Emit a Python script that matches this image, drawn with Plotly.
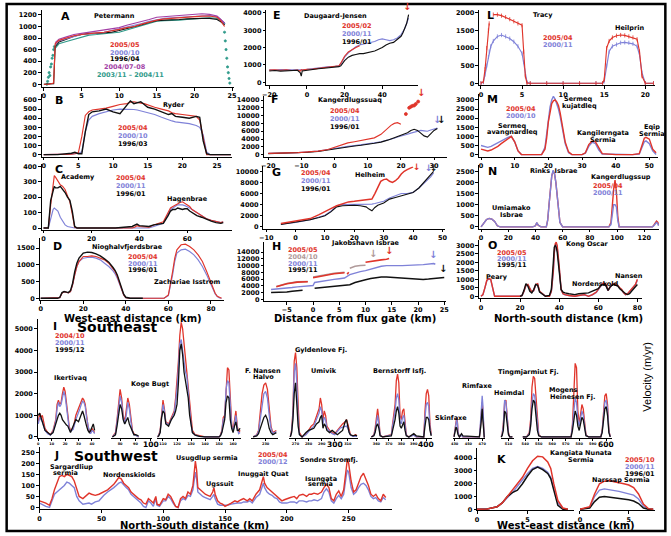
import plotly.graph_objects as go

W, H = 671, 536
FONT = "DejaVu Sans"
RED = "#e0352b"; BLUE = "#7f82d8"; BLACK = "#111111"; PURPLE = "#a23fa6"; TEAL = "#2f9a8a"; GREY = "#b09a9a"

# ---------------- DATA ----------------
A_x = [0, 0.7, 1.3, 1.5, 2, 3, 4, 5, 6, 7, 8, 9, 10, 11, 12, 13, 14, 15, 16, 17, 18, 19, 20, 21, 22, 23, 23.5, 24]
A_red = [0, 0, 20, 700, 760, 800, 840, 860, 880, 890, 900, 920, 950, 980, 1000, 1040, 1080, 1110, 1130, 1140, 1150, 1160, 1175, 1180, 1180, 1160, 1100, 1000]
A_blue = [None, None, None, 680, 750, 790, 830, 860, 870, 880, 900, 930, 960, 990, 1010, 1050, 1090, 1120, 1140, 1150, 1160, 1170, 1180, 1185, 1190, 1170, 1120, 1050]
A_black = [0, 0, 10, 650, 730, 780, 830, 860, 880, 880, 890, 900, 930, 960, 990, 1030, 1070, 1100, 1110, 1110, 1120, 1130, 1140, 1140, 1140, 1120, 1080, 1030]
A_purple = [None, None, None, 720, 780, 820, 860, 880, 900, 920, 930, 950, 980, 1020, 1050, 1080, 1120, 1160, 1170, 1180, 1190, 1200, 1210, 1220, 1210, 1180, 1120, 1060]
A_teal = [None, None, None, 620, 700, 740, 780, 820, 850, 860, 870, 880, 900, 940, 980, 1020, 1060, 1090, 1100, 1100, 1110, 1120, 1130, 1140, 1150, 1140, 1100, 1060]
A_teal_dot_x = [0.4, 0.5, 0.6, 0.7, 0.8, 0.9, 1.0, 1.1, 1.2, 1.3, 1.4, 23.9, 24.0, 24.1, 24.2, 24.3, 24.4, 24.5, 24.6, 24.7]
A_teal_dot_y = [0, 50, 120, 200, 150, 300, 350, 450, 500, 600, 650, 1050, 900, 750, 600, 450, 300, 200, 100, 20]

B_x = [0, 2, 4, 4.5, 5, 5.5, 6, 6.5, 7, 8, 9, 10, 11, 12, 12.5, 13, 13.5, 14, 14.5, 15, 16, 17, 18, 18.5, 19, 20, 21, 22, 22.5, 23, 23.5, 24, 26, 27]
B_red = [0, 0, 5, 10, 20, 200, 430, 470, 490, 500, 510, 530, 550, 560, 575, 580, 570, 565, 560, 545, 520, 500, 480, 460, 450, 440, 430, 420, 380, 200, 0, 0, 0, 0]
B_blue = [0, 0, 5, 10, 15, 30, 250, 380, 420, 450, 470, 490, 500, 500, 500, 495, 490, 480, 470, 460, 440, 410, 380, 370, 360, 350, 340, 320, 300, 220, 30, 0, 0, 0]
B_black = [0, 0, 15, 25, 10, 10, 250, 440, 470, 480, 500, 470, 450, 540, 590, 560, 570, 580, 550, 520, 500, 470, 440, 450, 420, 410, 400, 420, 410, 150, 10, 0, 0, 0]

C_x = [0, 2, 3, 4, 4.5, 5, 6, 7, 8, 9, 10, 11, 12, 12.5, 13, 14, 20, 30, 37, 38, 39, 40, 44, 46, 48, 50, 52, 53, 54, 55, 56, 57, 58, 59, 60, 61, 62, 63, 64, 66, 68, 70, 72, 74, 75]
C_red = [0, 0, 150, 300, 340, 330, 300, 280, 270, 250, 210, 170, 90, 40, 5, 0, 0, 0, 0, 5, 15, 10, 5, 20, 30, 40, 100, 130, 140, 150, 160, 165, 170, 160, 150, 140, 120, 110, 100, 80, 60, 50, 40, 35, 40]
C_blue = [0, 0, 60, 120, 130, 125, 110, 70, 40, 20, 10, 5, 0, 0, 0, 0, 0, 0, 0, 0, 0, 0, 0, 10, 20, 30, 90, 120, 130, 140, 150, 150, 150, 145, 140, 130, 120, 110, 100, 80, 60, 50, 40, 35, 40]
C_black = [0, 0, 180, 250, 270, 260, 260, 270, 250, 230, 200, 180, 110, 60, 10, 0, 0, 0, 10, 20, 25, 15, 10, 20, 25, 30, 80, 110, 120, 120, 130, 125, 120, 125, 125, 110, 100, 90, 80, 70, 55, 45, 35, 30, 35]

D_x = [0, 8, 9, 10, 11, 12, 13, 14, 15, 16, 17, 18, 20, 22, 24, 26, 28, 30, 32, 34, 35, 36, 37, 38, 39, 40, 42, 45, 48, 55, 58, 60, 61, 62, 63, 64, 66, 68, 70, 72, 74, 76, 78, 80, 82, 83, 84, 85]
D_red = [0, 0, 20, 150, 200, 180, 160, 200, 400, 700, 950, 1100, 1250, 1250, 1270, 1250, 1200, 1150, 1050, 900, 800, 650, 450, 250, 100, 20, 0, 0, 0, 0, 0, 100, 400, 800, 1200, 1450, 1600, 1620, 1550, 1450, 1300, 1100, 800, 450, 150, 60, 20, 0]
D_blue = [0, 0, 20, 150, 200, 180, 160, 200, 400, 700, 950, 1100, 1200, 1220, 1230, 1200, 1150, 1050, 950, 820, 730, 600, 420, 230, 100, 20, 0, 0, 0, 0, 0, 80, 350, 700, 1100, 1350, 1450, 1470, 1400, 1300, 1150, 950, 700, 400, 130, 50, 10, 0]
D_black = [0, 0, 30, 170, 200, 190, 170, 230, 450, 800, 1050, 1200, 1350, 1380, 1370, 1330, 1270, 1180, 1080, 920, 830, 700, 520, 300, 120, 30, 0, 0, 0] + [None] * 19

E_x = [-20, -17, -14, -11, -8, -5, -3.5, -3, -2.5, 0, 3, 6, 9, 12, 15, 17, 18, 19, 20, 22, 24, 26, 28, 30, 32, 34, 36, 38, 40, 42, 44, 46, 48, 50, 51, 52, 53, 54]
E_red = [700, 720, 690, 720, 680, 700, 650, 720, 700, 750, 760, 800, 830, 850, 900, 950, 1100, 1300, 1500, 1750, 1900, 2000, 2100] + [None] * 15
E_blue = [720, 700, 730, 700, 710, 720, 700, 710, 720, 740, 780, 850, 880, 900, 920, 950, 1050, 1250, 1450, 1700, 1900, 2050, 2150, 2200, 2250, 2300, 2350, 2450, 2500, 2450, 2400, 2450, 2550, 2750, 2900, 3100, 3400, 3700]
E_black = [650, 680, 640, 660, 670, 690, 550, 350, 650, 700, 730, 780, 810, 840, 870, 900, 950, 1100, 1250, 1450, 1550, 1600, 1650, 1650, 1700, 1750, 1800, 1900, 2000, 2150, 2250, 2300, 2450, 2650, 2850, 3100, 3400, 3900]
E_arrow_x = [53]
E_arrow_y = [3950]

F_x = [-20, -17, -14, -11, -8, -5, -2, 0, 2, 4, 6, 8, 10, 12, 14, 15, 16, 17, 18, 19, 20, 21, 22, 23, 24, 25, 26, 27, 28, 29, 30, 31]
F_red = [300, 350, 400, 500, 700, 900, 1300, 1800, 2500, 3000, 3300, 3600, 3900, 4300, 5200, 6000, 6800, 7500, 8000, 8200, 7800] + [None] * 11
F_blue = [300, 320, 400, 500, 700, 900, 1300, 1600, 1900, 2100, 2300, 2500, 2700, 3000, 3300, 3500, 3800, 4000, 4200, 4500, 4700, 4900, 5200, 5500, 5800, 6000, 6200, 6100, 6000, 6300, 6600, 6800]
F_black = [250, 300, 350, 450, 600, 800, 1200, 1500, 1800, 2000, 2200, 2400, 2600, 2900, 3200, 3400, 3700, 4000, 4300, 4600, 4800, 5200, 5600, 6200, 6500, 6200, 5600, 4800, 4500, 5300, 6200, 6700]
F_red_dot_x = [21.5, 22.5, 23, 23.5, 24, 24.5, 25.2]
F_red_dot_y = [10400, 12000, 12300, 12500, 12600, 13000, 13600]
F_arrow_x = [26, 31, 32.2]
F_arrow_y = [14000, 7000, 7000]

G_x = [-5, 0, 5, 8, 10, 12, 13, 14, 16, 18, 20, 22, 24, 25, 26, 27, 28, 30, 32, 34, 36, 38, 40, 42, 44, 46, 47]
G_blue = [500, 800, 1300, 1800, 2100, 2800, 3400, 3800, 4000, 4000, 4100, 4050, 4000, 4000, 4100, 4200, 4300, 4600, 5200, 5600, 6000, 6000, 6200, 7000, 8000, 9000, 9700]
G_black = [450, 850, 1300, 1700, 2000, 2700, 3200, 3600, 3800, 3900, 3900, 3800, 3600, 3200, 2900, 3500, 3900, 4300, 5000, 5300, 5600, 5800, 6200, 7000, 8200, 9200, 10000]
G_red_x = [-5, 0, 5, 8, 10, 12, 14, 16, 18, 20, 22, 24, 26, 27, 28, 29, 30, 31, 32, 33, 34, 35, 36, 37, 38, 39, 40]
G_red = [600, 1000, 1500, 2200, 2800, 3300, 3800, 4200, 4500, 4600, 4700, 4800, 5000, 6000, 7000, 8200, 8500, 8600, 8200, 8000, 8300, 8800, 9500, 10000, 10300, 10600, 10800]
G_arrow_x = [41.5, 45.3, 47.3]
G_arrow_y = [9600, 9300, 9300]

H_grey_x = [-7, -5, -3, -1, -0.5, 0, 2, 4, 6, 6.5, 7, 8, 9, 10]
H_grey = [3800, 4700, 5200, 5300, None, 6600, 7200, 7700, 8000, None, 9200, 9800, 10000, 10100]
H_red_x = [-7, -5, -3, -1, -0.5, 0, 2, 4, 6, 6.2, 6.5, 6.8, 8, 10, 11, 12, 13, 14, 14.5]
H_red = [3700, 4600, 5100, 5200, None, 6400, 7100, 7600, 7900, None, 7400, 8000, None, 11000, 11300, 11600, 11700, 11900, 12100]
H_blue_x = [-8, -7, -6, -5, -4, -3, -2, -1, 0, 0.3, 1, 2, 3, 4, 5, 6, 7, 8, 9, 10, 11, 12, 13, 14, 15, 16, 17, 18, 19, 20, 21, 22, 22.5, 23, 23.3]
H_blue = [2900, 3000, 3100, 3300, 3500, 3700, 3900, 4000, 4100, 5000, 5200, 5500, 5700, 5900, 6100, 6300, 7300, 7800, 8200, 8500, 9000, 9500, 9800, 10000, 10100, 10000, 10000, 10000, 10100, 10200, 10300, 10500, 10700, 10600, 10400]
H_black_x = [-8, -7, -6, -5, -4, -3, -2, -1, 0, 0.3, 1, 2, 3, 4, 5, 6, 7, 8, 9, 10, 11, 12, 13, 14, 15, 16, 17, 18, 19, 20, 21, 22, 23, 24, 25]
H_black = [2000, 2000, 2100, 2200, 2400, 2600, 2700, None, None, 3300, 3400, 3500, 3700, 3800, 3900, 4000, 4300, 5000, 5300, 5800, 6200, 6500, 6600, 6600, 6500, 6300, 6200, 6000, 5900, 5800, 5900, 6000, 6100, 6300, 6500]
H_arrow_x = [11.5, 14.5, 22.8, 24.8]
H_arrow_y = [11300, 12400, 11000, 6800]

L_x = [0, 0.3, 0.5, 0.7, 0.9, 1.0, 1.2, 1.5, 2, 2.5, 3, 3.5, 4, 4.5, 5, 5.2, 5.4, 5.6, 6, 8, 10, 12, 14, 14.8, 15, 15.3, 15.6, 16, 16.5, 17, 17.5, 18, 18.5, 19, 19.3, 19.6, 20, 21]
L_red = [0, 50, 400, 1000, 1500, 1700, None, 1950, 1950, 1920, 1880, 1820, 1760, 1700, 1650, 900, 200, 0, 0, 0, 0, 0, 0, 0, 100, 1000, 1200, 1300, 1350, 1370, 1360, 1330, 1300, 1250, 900, 200, 0, 0]
L_blue = [0, 30, 250, 500, 750, 900, 1050, 1200, 1330, 1370, 1330, 1270, 1180, 1050, 850, 600, 250, 30, 0, 0, 0, 0, 0, 0, 50, 500, 900, 1050, 1100, 1150, 1160, 1150, 1120, 1050, 800, 300, 0, 0]

M_x = [0, 1, 2, 3, 4, 5, 6, 7, 8, 9, 10, 11, 12, 15, 18, 19, 19.5, 20, 20.5, 21, 21.5, 22, 22.5, 23, 23.5, 24, 25, 26, 27, 30, 31, 32, 33, 34, 35, 36, 40, 45, 47, 48, 48.5, 49, 50, 51, 52]
M_red = [300, 250, 200, 250, 350, 450, 600, 750, 900, 1000, 700, 200, 0, 0, 0, 300, 900, 1800, 2400, 2800, 2950, 3000, 2900, 2700, 2300, 1800, 700, 150, 0, 0, 100, 550, 750, 700, 350, 50, 0, 0, 50, 700, 900, 950, 850, 300, 100]
M_blue = [500, 450, 400, 450, 550, 650, 750, 850, 950, 1000, 700, 200, 0, 0, 0, 400, 1100, 2000, 2600, 3000, 3200, 3050, 2800, 2500, 2100, 1600, 600, 100, 0, 0, 80, 450, 680, 600, 250, 30, 0, 0, 30, 500, 700, 750, 600, 200, 0]

N_x = [0, 2, 4, 6, 8, 10, 12, 14, 38, 40, 41, 42, 44, 48, 49, 50, 51, 52, 53, 54, 55, 56, 57, 58, 60, 94, 95.5, 96.5, 97.5, 98.5, 99.5, 100.5, 101.5, 110, 126, 127, 128, 129, 130, 130.5]
N_blue = [0, 150, 330, 380, 350, 250, 50, 0, 0, 50, 200, 80, 0, 0, 300, 1000, 1800, 2300, 2550, 2400, 2000, 1400, 700, 200, 0, 0, 100, 500, 1000, 1000, 900, 300, 0, 0, 0, 50, 150, 200, 150, 50]
N_red = [0, 150, 330, 380, 350, 250, 50, 0, 0, 50, 180, 80, 0, 0, 300, 1000, 1800, 2300, 2500, 2400, 2000, 1400, 700, 200, 0, 0, 200, 1000, 1700, 2100, 1600, 500, 0, 0, 0, 80, 200, 260, 200, 80]

O_x = [0, 1, 2, 3, 4, 5, 6, 7, 20, 21, 22, 23, 24, 25, 26, 27, 28, 29, 30, 33, 35, 36, 37, 37.5, 38, 38.5, 39, 40, 41, 42, 43, 45, 48, 50, 53, 55, 57, 59, 60, 61, 62, 63, 64, 65, 66, 67, 68, 69, 70, 71, 72, 73, 74, 75, 76, 77, 78, 79, 80]
O_red = [0, 100, 500, 950, 1050, 1000, 500, 0, 0, 50, 300, 650, 700, 450, 250, 350, 700, 750, 300, 0, 0, 300, 1500, 2600, 3100, 3200, 3000, 1800, 400, 150, 100, 50, 0, 50, 100, 0, 100, 250, 400, 600, 750, 780, 700, 350, 500, 700, 750, 700, 650, 500, 400, 200, 100, 150, 300, 450, 550, 700, 1000]
O_blue = [0, 90, 480, 920, 1020, 980, 480, 0, 0, 40, 280, 620, 680, 430, 240, 330, 680, 720, 280, 0, 0, 280, 1400, 2500, 3000, 3100, 2900, 1700, 380, 140, 90, 40, 0, 40, 90, 0, 90, 230, 380, 580, 720, 750, 680, 330, 480, 680, 720, 680, 620, 480, 380, 190, 90, 140, 280, 430, 530, 680, 950]
O_black = [None] * 8 + [0, 50, 350, 750, 600, 300, 200, 400, 700, 650, 250, 0, 50, 400, 2000, 2900, 3000, 2900, 2600, 1500, 400, 250, 200, 150, 100, 150, 200, 200, 300, 400, 450, 600, 680, 700, 600, 350, 550, 650, 700, 650, 600, 450, 350, 200, 150, 100, 150, 300, 450, 600, 700]

I1_x = [0, 1, 2, 3, 4, 5, 7, 9, 11, 13, 14, 15, 16, 17, 18, 19, 20, 21, 22, 23, 24, 26, 28, 30, 31, 32, 33, 34, 35, 36, 37, 38, 39, 40, 41, 42]
I1_red = [700, 1100, 900, 1000, 700, 400, 200, 100, 300, 800, 1500, 1700, 1500, 1600, 2000, 2300, 2100, 1500, 900, 500, 300, 400, 1000, 1300, 1500, 1600, 1800, 1700, 1500, 1000, 500, 300, 200, 400, 300, 200]
I1_blue = [600, 900, 800, 700, 500, 300, 150, 80, 250, 700, 1300, 1600, 1400, 1500, 1800, 2100, 1900, 1300, 700, 400, 250, 350, 800, 1100, 1300, 1500, 1650, 1600, 1400, 900, 450, 250, 150, 300, 250, 150]
I1_black = [1000, 1100, 900, 700, 500, 300, 200, 100, 200, 600, 900, 1000, 1100, 1000, 800, 700, 600, 550, 500, 300, 200, 500, 800, 700, 900, 1100, 1200, 1000, 700, 500, 300, 200, 300, 500, 600, 300]

I2_x = [75, 77, 78, 79, 80, 81, 82, 83, 84, 85, 86, 87, 88, 89, 90, 92]
I2_red = [0, 200, 800, 1500, 2200, 1800, 1000, 700, 1200, 1800, 1500, 800, 300, 150, 100, 0]
I2_blue = [0, 150, 700, 1400, 1900, 1600, 900, 600, 1000, 1600, 1300, 700, 250, 100, 80, 0]
I2_black = [0, 100, 500, 1100, 1500, 1300, 800, 600, 800, 900, 600, 400, 200, 100, 100, 50]

I3_x = [106, 107, 108, 109, 110, 111, 112, 114, 116, 118, 119, 120, 121, 122, 123, 124, 125, 126, 127, 128, 129, 130, 131, 133, 136, 140, 150, 151, 152, 153, 154, 155, 156, 157, 158, 159, 160, 161, 162, 163, 164, 165]
I3_red = [0, 100, 300, 1200, 1700, 1300, 700, 600, 900, 1200, 1800, 2500, 3500, 4700, 5300, 5000, 4200, 3500, 3000, 2300, 1500, 800, 300, 100, 50, 0, 0, 100, 300, 900, 1000, 2500, 3200, 3100, 2000, 600, 300, 800, 1200, 500, 200, 300]
I3_blue = [0, 80, 250, 1000, 1500, 1200, 650, 550, 800, 1100, 1600, 2200, 3200, 4300, 4500, 4000, 3500, 3000, 2800, 2000, 1300, 600, 200, 80, 30, 0, 0, 80, 250, 800, 900, 2200, 2600, 2500, 1500, 500, 250, 600, 1000, 400, 150, 200]
I3_black = [0, 50, 200, 900, 1200, 1100, 600, 500, 800, 1000, 1200, 1500, 2500, 4000, 4300, 3800, 3000, 2600, 2300, 1800, 1000, 500, 200, 80, 30, 0, 0, 50, 200, 500, 800, 1600, 1900, 1800, 800, 400, 200, 500, 700, 300, 300, 400]

I4_x = [223, 225, 226, 227, 228, 229, 230, 231, 232, 233, 234, 236]
I4_red = [0, 100, 300, 1200, 2000, 2400, 2500, 2200, 1300, 500, 200, 300]
I4_blue = [0, 80, 250, 900, 1600, 2000, 2100, 1800, 1000, 400, 150, 250]
I4_black = [0, 50, 150, 400, 600, 900, 1000, 800, 400, 200, 100, 200]

I5_x = [266, 267, 268, 269, 270, 271, 272, 273, 275, 278, 280, 282, 284, 286, 288, 289, 290, 291, 292, 293, 294, 296, 298, 300, 302, 304, 306, 308, 309, 310, 311, 312, 314, 316, 317]
I5_red = [0, 300, 1200, 3500, 3900, 3200, 1500, 200, 0, 150, 300, 500, 600, 1000, 1300, 1800, 1500, 800, 1200, 1000, 500, 300, 200, 150, 300, 500, 600, 700, 800, 600, 300, 100, 50, 100, 50]
I5_blue = [0, 250, 1000, 3000, 3400, 2500, 800, 100, 0, 100, 250, 400, 500, 800, 1100, 1400, 1200, 600, 900, 800, 400, 250, 150, 100, 250, 400, 450, 500, 500, 400, 200, 80, 30, 50, 30]
I5_black = [0, 200, 800, 2000, 2500, 1500, 500, 100, 0, 200, 300, 350, 400, 600, 700, 900, 1000, 400, 600, 500, 300, 200, 300, 200, 100, 200, 300, 700, 800, 500, 200, 100, 50, 80, 50]

I6_x = [356, 358, 359, 360, 361, 362, 363, 365, 372, 373, 374, 375, 376, 377, 378, 379, 380, 381, 382, 383, 384, 386, 390, 392, 398, 399, 400, 401, 402, 403, 404]
I6_red = [0, 100, 400, 1000, 1300, 800, 100, 0, 100, 600, 1000, 1500, 2600, 2900, 2500, 1000, 800, 1200, 1300, 700, 100, 0, 100, 0, 0, 1200, 2000, 2200, 1900, 600, 100]
I6_blue = [0, 80, 300, 800, 1000, 600, 80, 0, 80, 500, 800, 1200, 1800, 2000, 1700, 700, 600, 900, 1000, 500, 80, 0, 80, 0, 0, 900, 1500, 1600, 1400, 400, 80]
I6_black = [0, 50, 200, 500, 600, 400, 50, 0, 50, 300, 500, 800, 1200, 1400, 1100, 500, 400, 600, 700, 300, 50, 0, 150, 50, 0, 500, 900, 900, 800, 300, 50]

I7_x = [429, 431, 432, 433, 434, 435, 437, 440, 442, 466, 468, 469, 470, 471, 472, 473, 474]
I7_red = [0, 500, 800, 900, 700, 200, 0, 100, 0, 0, 700, 1400, 1600, 1200, 300, 0, 0]
I7_blue = [0, 450, 750, 800, 650, 200, 0, 80, 0, 0, 900, 1700, 1900, 1500, 300, 0, 0]
I7_black = [0, 300, 450, 400, 250, 100, 0, 150, 50, 0, 500, 1200, 1300, 800, 200, 0, 0]

I8_x = [504, 505, 506, 507, 508, 509, 510, 511, 513]
I8_red = [0, 100, 600, 1600, 1700, 1000, 200, 0, 0]
I8_blue = [0, 80, 500, 1700, 1600, 900, 150, 0, 0]
I8_black = [0, 50, 300, 1200, 1100, 600, 100, 0, 0]

I9_x = [538, 541, 543, 544, 545, 546, 547, 548, 549, 550, 552, 560, 570, 574, 575, 576, 577, 578, 579, 580, 581, 582, 583, 584, 585, 587, 590, 596, 597, 598, 599, 600, 601, 602, 603]
I9_red = [0, 0, 200, 800, 2300, 2800, 2700, 1800, 500, 100, 0, 0, 0, 0, 600, 2500, 3400, 3200, 1200, 600, 1200, 1500, 1300, 500, 100, 0, 0, 0, 300, 1200, 1900, 2000, 1500, 300, 0]
I9_blue = [0, 0, 150, 600, 1600, 2000, 1900, 1300, 400, 80, 0, 0, 0, 0, 500, 1400, 1800, 1600, 800, 500, 900, 1200, 1000, 400, 80, 0, 0, 0, 250, 1000, 1600, 1700, 1300, 250, 0]
I9_black = [0, 0, 100, 500, 1300, 1700, 1600, 1000, 300, 50, 0, 0, 0, 0, 300, 900, 1200, 1000, 500, 300, 700, 900, 800, 300, 50, 0, 0, 0, 200, 800, 1300, 1400, 1000, 200, 0]

J_x = [0, 3, 5, 8, 10, 12, 14, 16, 18, 20, 22, 24, 26, 28, 30, 32, 35, 38, 40, 42,
       45, 48, 50, 52, 55, 58, 60, 62, 64, 66, 68, 70, 72, 74, 76, 78, 80, 82, 84, 86,
       88, 90, 92, 94, 95, 97, 100, 102, 104, 106, 108, 110, 112, 114, 116, 118, 120, 122, 124, 125,
       126, 127, 128, 130, 132, 134, 136, 138, 140, 141, 142, 144, 146, 148, 150, 152, 155, 158, 160, 163,
       165, 168, 170, 172, 175, 178, 180, 181, 182, 184, 186, 188, 190, 192, 194, 196, 198, 200, 203, 206,
       208, 210, 213, 216, 218, 220, 222, 225, 228, 230, 232, 234, 236, 238, 240, 242, 244, 246, 248, 249,
       250, 251, 252, 254, 256, 258, 260, 262, 264, 266, 268, 270, 272, 274, 276, 278, 280]
J_red = [30, 25, 20, 10, 40, 80, 110, 140, 145, 140, 150, 145, 140, 120, 80, 50, 40, 55, 65, 60,
         55, 60, 65, 70, 80, 95, 105, 120, 135, 130, 110, 100, 90, 70, 60, 50, 40, 35, 20, 15,
         40, 30, 20, 50, 15, 10, 40, 35, 60, 50, 25, 5, 0, 40, 50, 40, 70, 60, 100, 170,
         210, 170, 90, 80, 70, 60, 55, 50, 70, 90, 60, 30, 20, 15, 5, 10, 20, 30, 25, 35,
         40, 30, 40, 30, 60, 80, 120, 140, 110, 90, 80, 70, 60, 50, 40, 30, 35, 40, 45, 50,
         40, 55, 60, 50, 60, 60, 65, 60, 70, 90, 105, 90, 40, 30, 60, 75, 50, 80, 170, 220,
         200, 160, 120, 70, 80, 110, 140, 155, 130, 100, 60, 50, 60, 40, 30, 60, 45]
J_blue = [20, 10, 5, 0, 30, 60, 70, 80, 90, 100, 115, 110, 100, 90, 50, 30, 15, 20, 20, 15,
          25, 30, 45, 55, 70, 80, 90, 100, 110, 115, 100, 90, 80, 60, 50, 40, 30, 20, 5, 0,
          30, 20, 5, 40, 10, 5, 30, 30, 50, 40, 20, 5, 0, 30, 40, 35, 55, 50, 80, 130,
          160, 130, 70, 60, 50, 45, 40, 35, 50, 60, 40, 15, 10, 10, 10, 10, 15, 20, 20, 20,
          25, 25, 30, 20, 45, 60, 90, 110, 90, 70, 60, 55, 45, 40, 25, 20, 20, 20, 25, 25,
          20, 30, 30, 25, 30, 30, 35, 30, 40, 70, 85, 70, 30, 20, 40, 55, 40, 60, 140, 170,
          160, 130, 90, 60, 70, 90, 105, 110, 100, 80, 50, 40, 45, 30, 25, 45, 35]

K1_x = [0, 1, 2, 2.5, 3, 3.5, 4, 4.5, 5, 5.5, 6, 6.5, 7, 7.3, 7.6, 8, 8.5, 9]
K1_red = [0, 20, 200, 500, 1000, 1500, 2000, 2500, 3200, 3800, 4150, 4100, 3700, 3200, 2000, 700, 100, 0]
K1_blue = [0, 20, 200, 500, 900, 1300, 1800, 2300, 2800, 3200, 3350, 3200, 2900, 2500, 1600, 500, 50, 0]
K1_black = [0, 20, 200, 500, 1000, 1300, 1500, 2000, 2600, 3100, 3300, 3100, 2800, 2400, 1500, 300, 0, 0]
K2_x = [0, 1, 1.5, 2, 2.5, 3, 3.5, 4, 4.5, 5, 5.5, 6, 6.5, 7, 7.5]
K2_red = [0, 200, 1200, 2000, 2200, 2250, 2150, 2100, 2000, 1900, 1700, 1200, 400, 50, 0]
K2_blue = [0, 150, 1000, 1500, 1600, 1550, 1500, 1400, 1300, 1200, 1100, 800, 250, 0, 0]
K2_black = [0, 100, 600, 950, 1000, 950, 900, 850, 850, 750, 650, 450, 100, 0, 0]

# ---------------- FIGURE ----------------
fig = go.Figure()
layout = {}
anns = []
TICK_FS = 6.5
LBL = 6.5     # glacier names
LEG = 6.5     # legend entries
TTL = 10      # axis titles


def xname(n): return "xaxis" if n == 1 else f"xaxis{n}"
def yname(n): return "yaxis" if n == 1 else f"yaxis{n}"
def xref(n): return "x" if n == 1 else f"x{n}"
def yref(n): return "y" if n == 1 else f"y{n}"


def axstyle(fs=TICK_FS):
    return dict(showline=True, linecolor="black", linewidth=1, ticks="outside", ticklen=2.5, tickwidth=1,
                tickcolor="black", showgrid=False, zeroline=False, tickformat="d",
                tickfont=dict(family=FONT, size=fs, color="black", weight="bold"))


def panel(n, x0, x1, y0, y1, xr, yr, xt, yt=None, yn=None, xfs=TICK_FS, yfs=TICK_FS, xtt=None):
    yn = yn or n
    d = axstyle(xfs)
    d.update(domain=[x0 / W, x1 / W], range=xr, tickvals=xt, anchor=yref(yn))
    if xtt is not None:
        d["ticktext"] = xtt
    layout[xname(n)] = d
    if yn == n:
        e = axstyle(yfs)
        e.update(domain=[1 - y1 / H, 1 - y0 / H], range=yr, tickvals=yt, anchor=xref(n))
        layout[yname(n)] = e


def line(n, xs, ys, color, yn=None, width=1.15, mode="lines", msym=None, msize=3):
    yn = yn or n
    kw = {}
    if msym:
        kw["marker"] = dict(color=color, size=msize, symbol=msym, line=dict(color=color, width=0.8))
    fig.add_trace(go.Scatter(x=xs, y=ys, mode=mode, line=dict(color=color, width=width),
                             xaxis=xref(n), yaxis=yref(yn), showlegend=False, hoverinfo="skip",
                             connectgaps=False, **kw))


def txt(s, x, y, size=LBL, color="black", xanchor="center", weight="bold", family=FONT, angle=0):
    anns.append(dict(text=s, x=x / W, y=1 - y / H, xref="paper", yref="paper", showarrow=False,
                     xanchor=xanchor, yanchor="middle", textangle=angle,
                     font=dict(family=family, size=size, color=color, weight=weight)))


def arrows(n, xs, ys, colors, size=10):
    for x, y, c in zip(xs, ys, colors):
        anns.append(dict(text="↓", x=x, y=y, xref=xref(n), yref=yref(n), showarrow=False,
                         yanchor="bottom", font=dict(family=FONT, size=size, color=c, weight="bold")))


# Panel A
panel(1, 38, 232, 8, 86, [-0.3, 25.2], [-51, 1286], [0, 5, 10, 15, 20, 25], [0, 200, 400, 600, 800, 1000, 1200])
line(1, A_x, A_teal, TEAL)
line(1, A_teal_dot_x, A_teal_dot_y, TEAL, mode="markers", msym="circle", msize=2.2)
line(1, A_x, A_black, BLACK)
line(1, A_x, A_blue, BLUE)
line(1, A_x, A_purple, PURPLE)
line(1, A_x, A_red, RED)
# Panel B
panel(2, 38, 230, 93, 156, [-0.3, 27.1], [-21, 664], [0, 5, 10, 15, 20, 25], [0, 100, 200, 300, 400, 500, 600])
line(2, B_x, B_blue, BLUE); line(2, B_x, B_red, RED); line(2, B_x, B_black, BLACK, width=1.4)
# Panel C
panel(3, 38, 230, 164, 230, [-0.8, 78.5], [-12, 412], [0, 20, 40, 60], [0, 100, 200, 300, 400])
line(3, C_x, C_blue, BLUE); line(3, C_x, C_red, RED); line(3, C_x, C_black, BLACK, width=1.4)
# Panel D
panel(4, 36, 222, 238, 301, [-0.5, 86], [-57, 1810], [0, 20, 40, 60, 80], [0, 500, 1000, 1500])
line(4, D_x, D_blue, BLUE); line(4, D_x, D_red, RED); line(4, D_x, D_black, BLACK, width=1.4)
# Panel E
panel(5, 265, 418, 8, 84, [-21.6, 58.8], [-170, 4170], [-20, 0, 20, 40], [0, 1000, 2000, 3000, 4000])
line(5, E_x, E_blue, BLUE); line(5, E_x, E_red, RED); line(5, E_x, E_black, BLACK)
arrows(5, E_arrow_x, E_arrow_y, [RED])
# Panel F
panel(6, 263, 448, 95, 156, [-21.2, 34], [-500, 15000], [-20, -10, 0, 10, 20, 30],
      [0, 2000, 4000, 6000, 8000, 10000, 12000, 14000])
line(6, F_x, F_blue, BLUE); line(6, F_x, F_black, BLACK); line(6, F_x, F_red, RED)
line(6, F_red_dot_x, F_red_dot_y, RED, mode="markers", msym="circle", msize=3)
arrows(6, F_arrow_x, F_arrow_y, [RED, BLUE, BLACK])
# Panel G
panel(7, 262, 446, 166, 229, [-11, 51], [-350, 10870], [-10, 0, 10, 20, 30, 40, 50],
      [0, 2000, 4000, 6000, 8000, 10000])
line(7, G_x, G_blue, BLUE); line(7, G_x, G_black, BLACK); line(7, G_red_x, G_red, RED, width=1.5)
arrows(7, G_arrow_x, G_arrow_y, [RED, BLUE, BLACK], size=9)
# Panel H
panel(8, 263, 447, 242, 302, [-9.3, 25.4], [-560, 17080], [-5, 0, 5, 10, 15, 20, 25],
      [0, 2000, 4000, 6000, 8000, 10000, 12000, 14000])
line(8, H_black_x, H_black, BLACK, width=1.5); line(8, H_blue_x, H_blue, BLUE, width=1.4)
line(8, H_grey_x, H_grey, GREY, width=1.5); line(8, H_red_x, H_red, RED, width=1.6)
arrows(8, H_arrow_x, H_arrow_y, [GREY, RED, BLUE, BLACK])
# Panel L
panel(9, 480, 658, 8, 84, [-0.24, 21.2], [-56, 2083], [0, 5, 10, 15, 20], [0, 500, 1000, 1500, 2000])
line(9, L_x, L_blue, BLUE, mode="lines+markers", msym="line-ns", msize=3)
line(9, L_x, L_red, RED, mode="lines+markers", msym="line-ns", msize=3)
# Panel M
panel(10, 480, 661, 93, 156, [-0.6, 52.6], [-107, 3320], [0, 10, 20, 30, 40, 50],
      [0, 500, 1000, 1500, 2000, 2500, 3000])
line(10, M_x, M_blue, BLUE, width=1.4); line(10, M_x, M_red, RED, width=1.4)
# Panel N
panel(11, 480, 662, 165, 229, [-1.5, 130.9], [-88, 2763], [0, 20, 40, 60, 80, 100, 120],
      [0, 500, 1000, 1500, 2000, 2500])
line(11, N_x, N_red, RED, width=1.4); line(11, N_x, N_blue, BLUE, width=1.4)
# Panel O
panel(12, 480, 645, 240, 299, [-1, 82.5], [-113, 3340], [0, 20, 40, 60, 80],
      [0, 500, 1000, 1500, 2000, 2500, 3000])
line(12, O_x, O_blue, BLUE, width=1.4); line(12, O_x, O_red, RED, width=1.4)
line(12, O_x, O_black, BLACK, width=1.4)
# Panel J
panel(13, 36, 392, 449, 512, [0, 285], [-8, 275], [0, 50, 100, 150, 200, 250], [0, 50, 100, 150, 200, 250])
line(13, J_x, J_blue, BLUE, width=1.4); line(13, J_x, J_red, RED, width=1.4)
# Panel K
panel(14, 478, 576, 450, 513, [0, 9.6], [-74, 4810], [0, 5], [0, 1000, 2000, 3000, 4000])
panel(15, 582, 658, 450, 513, [0, 7.7], None, [0, 5], yn=14)
line(14, K1_x, K1_blue, BLUE, width=1.3); line(14, K1_x, K1_black, BLACK, width=1.5); line(14, K1_x, K1_red, RED, width=1.5)
line(15, K2_x, K2_blue, BLUE, yn=14, width=1.3); line(15, K2_x, K2_black, BLACK, yn=14, width=1.5)
line(15, K2_x, K2_red, RED, yn=14, width=1.5)

# Panel I (segments sharing one velocity axis)
IY = 16
I_segments = [
    (34, 97, [-0.5, 46], [0, 10, 20, 30, 40], None, I1_x, I1_red, I1_blue, I1_black),
    (108, 150, [74, 101], [80, 90, 100], ["80", "90", ""], I2_x, I2_red, I2_blue, I2_black),
    (155, 240, [106, 166], [110, 120, 130, 140, 150, 160], None, I3_x, I3_red, I3_blue, I3_black),
    (250, 277, [222, 237], [230], None, I4_x, I4_red, I4_blue, I4_black),
    (288, 358, [265, 318], [270, 280, 290, 300, 310], ["270", "280", "290", "", "310"], I5_x, I5_red, I5_blue, I5_black),
    (370, 433, [355, 405], [360, 370, 380, 390, 400], ["360", "370", "380", "390", ""], I6_x, I6_red, I6_blue, I6_black),
    (454, 486, [428, 474], [430, 450, 470], None, I7_x, I7_red, I7_blue, I7_black),
    (502, 515, [504, 514], [510], None, I8_x, I8_red, I8_blue, I8_black),
    (524, 614, [538, 604], [540, 550, 560, 570, 580, 590, 600], ["540", "550", "560", "570", "580", "590", ""], I9_x, I9_red, I9_blue, I9_black),
]
for k, (x0, x1, xr, xt, xtt, sx, sr, sb, sk) in enumerate(I_segments):
    n = IY + k
    if k == 0:
        panel(n, x0, x1, 320, 440, xr, [-45, 5450], xt, [0, 1000, 2000, 3000, 4000, 5000], xfs=3.5, xtt=xtt)
    else:
        panel(n, x0, x1, 320, 440, xr, None, xt, yn=IY, xfs=3.5, xtt=xtt)
    layout[xname(n)]["ticklen"] = 2
    line(n, sx, sr, RED, yn=IY, width=1.3)
    line(n, sx, sb, BLUE, yn=IY, width=1.3)
    line(n, sx, sk, BLACK, yn=IY, width=1.3)

for n, v in [(IY + 1, 100), (IY + 4, 300), (IY + 5, 400), (IY + 8, 600)]:
    anns.append(dict(text=str(v), x=v, y=1 - 447 / H, xref=xref(n), yref="paper", showarrow=False,
                     yanchor="middle", font=dict(family=FONT, size=7.5, color="black", weight="bold")))

# ---------------- TEXT ----------------
# A
txt("A", 62, 15, 11); txt("Petermann", 112, 14)
txt("2005/05", 122, 43, LEG, RED); txt("2000/10", 122, 51, LEG, BLUE); txt("1996/04", 122, 58, LEG)
txt("2004/07-08", 122, 66, LEG, PURPLE); txt("2003/11 – 2004/11", 128, 74, LEG, TEAL)
# B
txt("B", 56, 99, 11); txt("Ryder", 172, 104)
txt("2005/04", 130, 127, LEG, RED); txt("2000/10", 130, 135, LEG, BLUE); txt("1996/03", 130, 143, LEG)
# C
txt("C", 56, 169, 11); txt("Academy", 75, 177)
txt("2005/04", 128, 178, LEG, RED); txt("2000/11", 128, 186, LEG, BLUE); txt("1996/01", 128, 194, LEG)
txt("Hagenbrae", 185, 199)
# D
txt("D", 54, 247, 11); txt("Nioghalvfjerdsbrae", 125, 247)
txt("2005/04", 140, 257, LEG, RED); txt("2000/11", 140, 264, LEG, BLUE); txt("1996/01", 140, 271, LEG)
txt("Zachariae Isstrom", 185, 283)
txt("West-east distance (km)", 130, 319, TTL)
# E
txt("E", 276, 14, 11); txt("Daugaard-Jensen", 335, 14)
txt("2005/02", 357, 24, LEG, RED); txt("2000/11", 357, 32, LEG, BLUE); txt("1996/01", 357, 40, LEG)
# F
txt("F", 274, 98, 11); txt("Kangerdlugssuaq", 350, 99)
txt("2005/04", 345, 110, LEG, RED); txt("2000/11", 345, 118, LEG, BLUE); txt("1996/01", 345, 126, LEG)
# G
txt("G", 275, 172, 11)
txt("2005/04", 315, 173, LEG, RED); txt("2000/11", 315, 181, LEG, BLUE); txt("1996/01", 315, 189, LEG)
txt("Helheim", 370, 175)
# H
txt("H", 275, 247, 11); txt("Jakobshavn Isbrae", 365, 243)
txt("2005/05", 302, 250, LEG, RED); txt("2004/10", 302, 257, LEG, GREY)
txt("2000/11", 302, 264, LEG, BLUE); txt("1995/11", 302, 271, LEG)
txt("Distance from flux gate (km)", 355, 319, TTL)
# L
txt("L", 492, 14, 11); txt("Tracy", 545, 13); txt("Heilprin", 632, 26)
txt("2005/04", 560, 36, LEG, RED); txt("2000/11", 560, 43, LEG, BLUE)
# M
txt("M", 494, 98, 11); txt("Sermeq", 580, 98); txt("kujatdleq", 582, 105)
txt("2005/04", 522, 108, LEG, RED); txt("2000/10", 522, 115, LEG, BLUE)
txt("Sermeq", 513, 125); txt("avangnardleq", 514, 131)
txt("Kangilerngata", 605, 132); txt("Sermia", 605, 139)
txt("Eqip", 655, 126); txt("Sermia", 655, 133)
# N
txt("N", 494, 171, 11); txt("Rinks  Isbrae", 556, 171); txt("Kangerdlugssup", 624, 177)
txt("2005/04", 610, 186, LEG, RED); txt("2000/11", 610, 193, LEG, BLUE)
txt("Umiamako", 513, 208); txt("Isbrae", 513, 215)
# O
txt("O", 494, 246, 11); txt("Kong Oscar", 590, 244)
txt("2005/05", 513, 253, LEG, RED); txt("2000/11", 513, 259, LEG, BLUE); txt("1995/11", 513, 265, LEG)
txt("Peary", 498, 278); txt("Nordenskold", 598, 285); txt("Nansen", 632, 277)
txt("North-south distance (km)", 570, 319, TTL)
# I
txt("I", 52, 328, 11); txt("Southeast", 115, 328, 14)
txt("2004/10", 67, 337, LEG, RED); txt("2000/11", 67, 344, LEG, BLUE); txt("1995/12", 67, 351, LEG)
txt("Ikertivaq", 67, 380); txt("Koge Bugt", 148, 386)
txt("F. Nansen", 262, 372); txt("Halvo", 262, 379)
txt("Gyldenlove Fj.", 320, 351); txt("Umivik", 323, 372); txt("Bernstorff Isfj.", 400, 372)
txt("Skinfaxe", 452, 420); txt("Rimfaxe", 478, 388); txt("Heimdal", 510, 395)
txt("Tingmjarmiut Fj.", 530, 373); txt("Mogens", 565, 392); txt("Heinesen Fj.", 574, 399)
txt("Velocity (m/yr)", 650, 378, 11, weight="normal", family="Liberation Sans", angle=-90)
# J
txt("J", 53, 458, 11); txt("Southwest", 113, 458, 14)
txt("Sargardliup", 68, 469); txt("sermia", 62, 475); txt("Nordenskiolds", 127, 477)
txt("Usugdlup sermia", 205, 460)
txt("2005/04", 272, 457, LEG, RED); txt("2000/12", 272, 464, LEG, BLUE)
txt("Ugssuit", 218, 487); txt("Inuggait Quat", 262, 476)
txt("Isungata", 320, 481); txt("sermia", 320, 487); txt("Sondre Stromfj.", 328, 462)
txt("North-south distance (km)", 193, 528, TTL)
# K
txt("K", 503, 462, 11); txt("Kangiata Nunata", 583, 455); txt("Sermia", 583, 462)
txt("2005/10", 643, 462, LEG, RED); txt("2000/11", 643, 469, LEG, BLUE); txt("1996/01", 643, 476, LEG)
txt("Narssap Sermia", 623, 482)
txt("West-east distance (km)", 568, 528, TTL)

fig.update_layout(
    width=W, height=H, margin=dict(l=0, r=0, t=0, b=0),
    paper_bgcolor="white", plot_bgcolor="white", showlegend=False,
    annotations=anns,
    shapes=[dict(type="rect", xref="paper", yref="paper", x0=0.004, x1=0.996, y0=0.004, y1=0.996,
                 line=dict(color="black", width=2.5))],
    **layout,
)
fig.write_html("out.html")
